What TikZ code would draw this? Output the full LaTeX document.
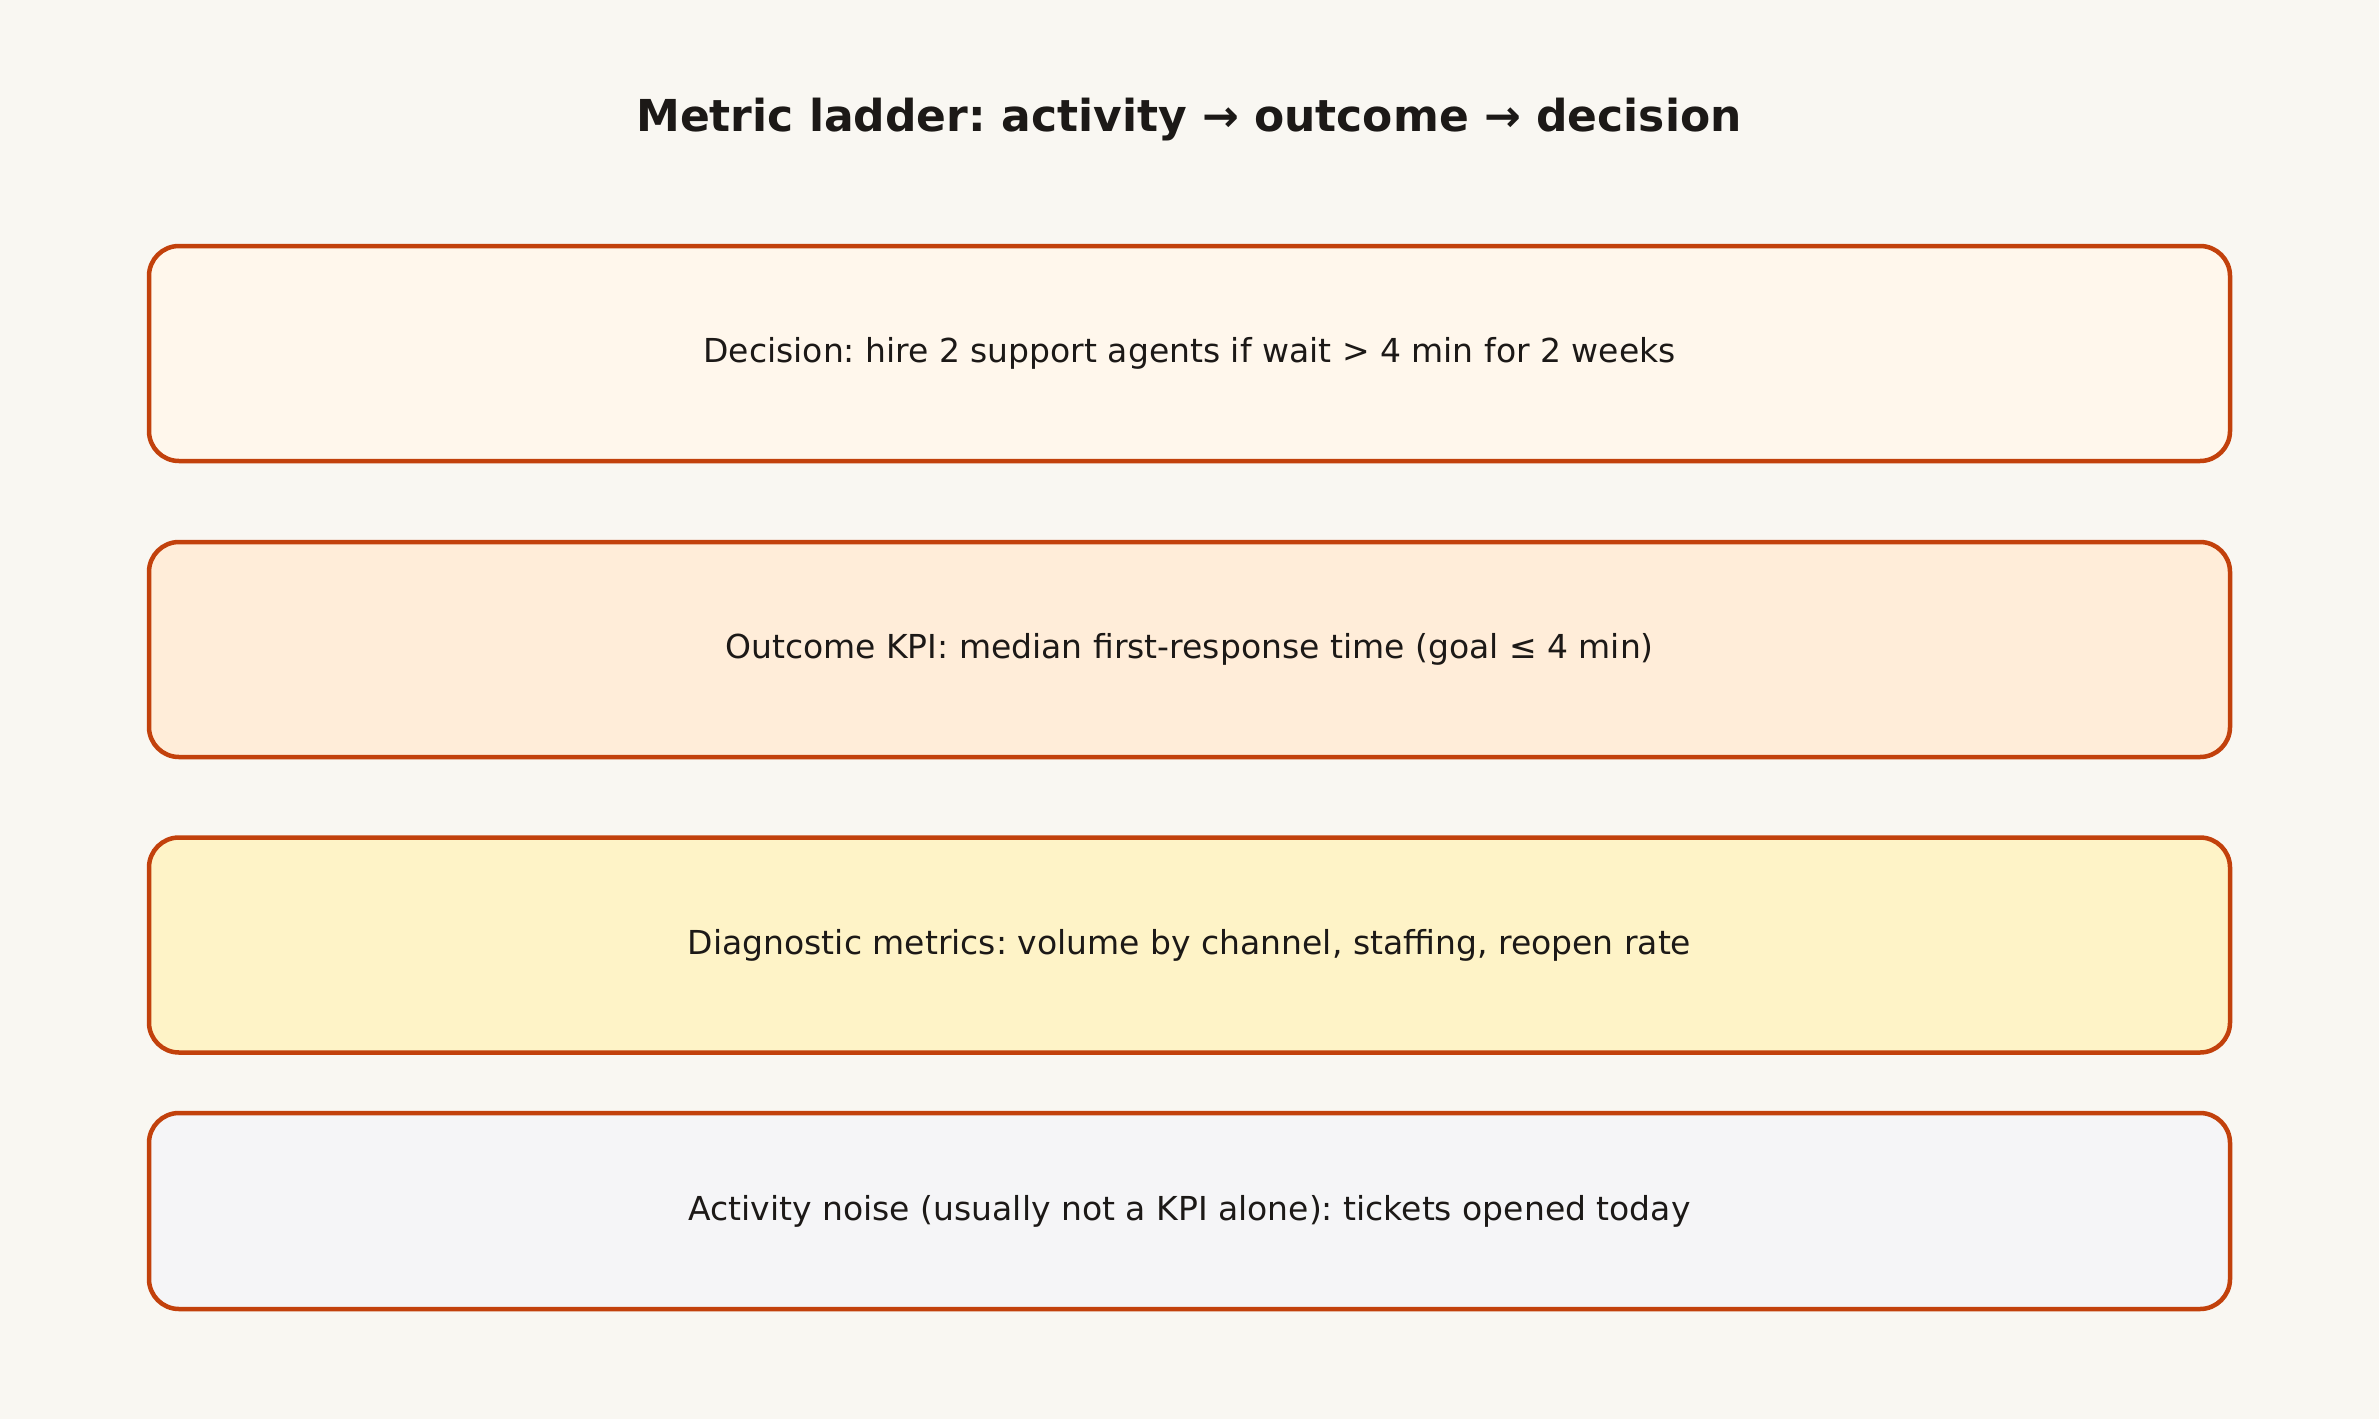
\documentclass[tikz,border=0pt]{standalone}
\usepackage{fontspec}
\setmainfont{DejaVu Sans}
\frenchspacing
\definecolor{bg}{HTML}{F9F7F2}
\definecolor{edge}{HTML}{C2410C}
\definecolor{ink}{HTML}{1C1917}
\definecolor{fillA}{HTML}{FFF7EC}
\definecolor{fillB}{HTML}{FFEDD9}
\definecolor{fillC}{HTML}{FEF3C7}
\definecolor{fillD}{HTML}{F5F5F7}
\tikzset{
  rung/.style={draw=edge, line width=4.5pt, rounded corners=30pt, minimum width=2081pt, inner sep=0pt, text=ink, font=\fontsize{33}{39}\selectfont},
  titletext/.style={text=ink, font=\bfseries\fontsize{44}{52}\selectfont}
}
\begin{document}
\begin{tikzpicture}[x=1pt,y=-1pt]
\fill[bg] (0,0) rectangle (2379,1419);
\useasboundingbox (0,0) rectangle (2379,1419);
\node[titletext] (title) at (1189,120) {Metric ladder: activity → outcome → decision};
\node[rung, fill=fillA, minimum height=215pt] (decision) at (1189.5,353.5) {Decision: hire 2 support agents if wait > 4 min for 2 weeks};
\node[rung, fill=fillB, minimum height=215pt] (outcome) at (1189.5,649.5) {Outcome KPI: median first-response time (goal ≤ 4 min)};
\node[rung, fill=fillC, minimum height=215pt] (diag) at (1189.5,945) {Diagnostic metrics: volume by channel, staffing, reopen rate};
\node[rung, fill=fillD, minimum height=196pt] (noise) at (1189.5,1211) {Activity noise (usually not a KPI alone): tickets opened today};
\end{tikzpicture}
\end{document}
